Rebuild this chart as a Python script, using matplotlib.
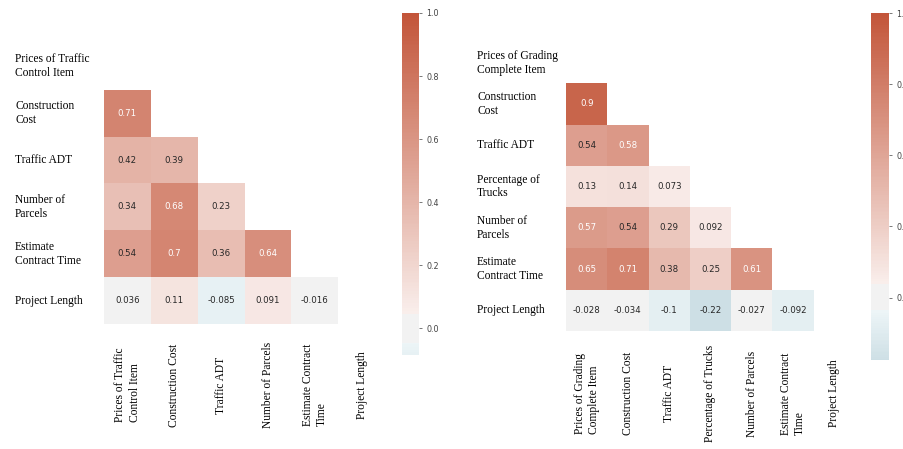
import colorsys
import numpy as np
import matplotlib
matplotlib.use("Agg")
import matplotlib.pyplot as plt
import matplotlib.ticker as mticker
import seaborn as sns
from matplotlib.colors import LinearSegmentedColormap
from seaborn.external import husl

# left panel: traffic control item
left_vars = ["Prices of Traffic\nControl Item", "Construction\nCost", "Traffic ADT",
             "Number of\nParcels", "Estimate\nContract Time", "Project Length"]
left_xlabels = ["Prices of Traffic\nControl Item", "Construction Cost", "Traffic ADT",
                "Number of Parcels", "Estimate Contract\nTime", "Project Length"]
left_lower = [
    [0.71],
    [0.42, 0.39],
    [0.34, 0.68, 0.23],
    [0.54, 0.7, 0.36, 0.64],
    [0.036, 0.11, -0.085, 0.091, -0.016],
]

# right panel: grading complete item
right_vars = ["Prices of Grading\nComplete Item", "Construction\nCost", "Traffic ADT",
              "Percentage of\nTrucks", "Number of\nParcels", "Estimate\nContract Time",
              "Project Length"]
right_xlabels = ["Prices of Grading\nComplete Item", "Construction Cost", "Traffic ADT",
                 "Percentage of Trucks", "Number of Parcels", "Estimate Contract\nTime",
                 "Project Length"]
right_lower = [
    [0.9],
    [0.54, 0.58],
    [0.13, 0.14, 0.073],
    [0.57, 0.54, 0.29, 0.092],
    [0.65, 0.71, 0.38, 0.25, 0.61],
    [-0.028, -0.034, -0.1, -0.22, -0.027, -0.092],
]


def old_diverging(h_neg=220, h_pos=20, s=75, l=50, sep=12):
    # diverging palette the way older seaborn built it (tinted light ends)
    def ends(h):
        c = np.clip(husl.husl_to_rgb(h, s, l), 0, 1)
        hh, _, ss = colorsys.rgb_to_hls(*c)
        light = colorsys.hls_to_rgb(hh, 0.95, ss)
        return tuple(c), light
    blue, blue_light = ends(h_neg)
    red, red_light = ends(h_pos)
    gray = (0.95, 0.95, 0.95)
    a = (128 - sep // 2) / 256
    b = 1 - a
    nodes = [(0.0, blue), (a - 1e-3, blue_light), (a, gray),
             (b, gray), (b + 1e-3, red_light), (1.0, red)]
    return LinearSegmentedColormap.from_list("div", nodes, N=256)


def build_matrix(lower):
    n = len(lower) + 1
    m = np.eye(n)
    for i, row in enumerate(lower):
        for j, v in enumerate(row):
            m[i + 1, j] = v
            m[j, i + 1] = v
    return m


def draw_panel(ax, cax, lower, ylabels, xlabels, ypad, xpad, step, fmt):
    corr = build_matrix(lower)
    mask = np.triu(np.ones_like(corr, dtype=bool))
    sns.heatmap(corr, mask=mask, cmap=old_diverging(), vmax=1, center=0, annot=True,
                annot_kws={"size": 6.2}, ax=ax, cbar_ax=cax,
                xticklabels=xlabels, yticklabels=ylabels)
    ax.set_yticklabels(ylabels, rotation=0, ha="left", va="center", linespacing=1.22,
                       fontsize=8.3, family="Liberation Serif")
    ax.set_xticklabels(xlabels, rotation=90, ha="center", va="center",
                       multialignment="left", linespacing=1.25,
                       fontsize=8.3, family="Liberation Serif")
    ax.tick_params(axis="y", length=0, pad=ypad)
    ax.tick_params(axis="x", length=0, pad=xpad)
    cax.yaxis.set_major_locator(mticker.MultipleLocator(step))
    cax.yaxis.set_major_formatter(mticker.FormatStrFormatter(fmt))
    cax.tick_params(labelsize=5.8, length=2, width=0.5, colors="#444444")


fig = plt.figure(figsize=(9.04, 4.49), dpi=100)

ax1 = fig.add_axes([0.115, 0.2784, 0.311, 0.626])
cax1 = fig.add_axes([0.4447, 0.2094, 0.0188, 0.7617])
ax2 = fig.add_axes([0.6261, 0.2628, 0.3197, 0.6437])
cax2 = fig.add_axes([0.9635, 0.198, 0.0199, 0.773])

draw_panel(ax1, cax1, left_lower, left_vars, left_xlabels, ypad=64, xpad=44,
           step=0.2, fmt="%.1f")
draw_panel(ax2, cax2, right_lower, right_vars, right_xlabels, ypad=64, xpad=45,
           step=0.25, fmt="%.2f")

fig.savefig("out.png", dpi=100)
